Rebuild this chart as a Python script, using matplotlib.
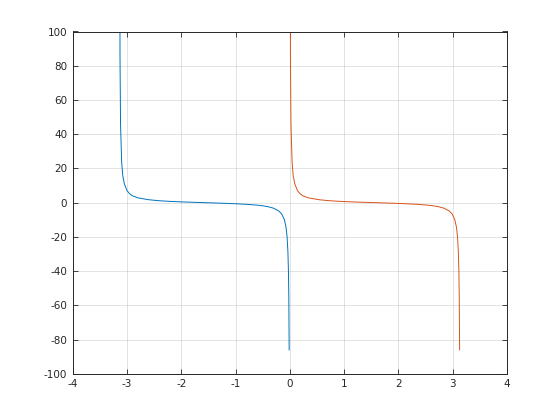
import matplotlib
matplotlib.use("Agg")
import matplotlib.pyplot as plt

blue_x = [-3.1416, -3.130, -3.12, -3.10, -3.08, -3.05, -3.0, -2.95, -2.9, -2.8, -2.6, -2.4,
          -2.2, -2.0, -1.8, -1.6, -1.4, -1.2, -1.0, -0.8, -0.6, -0.5, -0.4, -0.3, -0.2,
          -0.15, -0.1, -0.07, -0.05, -0.035, -0.025, -0.018, -0.0116]
blue_y = [500, 86, 46, 24, 16, 11, 7.0, 5.1, 4.0, 2.8, 1.7, 1.1,
          0.73, 0.46, 0.23, 0.03, -0.17, -0.39, -0.64, -0.97, -1.46, -1.83, -2.37, -3.23, -4.93,
          -6.6, -9.97, -14.3, -20, -28.6, -40, -55.5, -86]
orange_x = [0.0, 0.0116, 0.0216, 0.0416, 0.0616, 0.0916, 0.1416, 0.1916, 0.2416, 0.3416, 0.5416, 0.7416,
            0.9416, 1.1416, 1.3416, 1.5416, 1.7416, 1.9416, 2.1416, 2.3416, 2.5416, 2.6416, 2.7416, 2.8416, 2.9416,
            2.9916, 3.0416, 3.0716, 3.0916, 3.1066, 3.1166, 3.1236, 3.1300]
orange_y = blue_y[:]

xticks = [-4, -3, -2, -1, 0, 1, 2, 3, 4]
yticks = [-100, -80, -60, -40, -20, 0, 20, 40, 60, 80, 100]

fig = plt.figure(figsize=(5.6, 4.2), dpi=100)
ax = fig.add_axes([0.13, 0.11, 0.775, 0.815])
ax.plot(blue_x, blue_y, color='#0072BD', lw=0.7)
ax.plot(orange_x, orange_y, color='#D95319', lw=0.7)
ax.set_xlim(-4, 4)
ax.set_ylim(-100, 100)
ax.set_xticks(xticks)
ax.set_yticks(yticks)
ax.set_xticklabels([str(t) for t in xticks])
ax.set_yticklabels([str(t) for t in yticks])
ax.grid(True, color='#262626', alpha=0.15, lw=0.6)
ax.set_axisbelow(True)
ax.tick_params(direction='in', length=3.5, width=0.6, colors='#262626', labelsize=7.5,
               top=True, right=True, pad=4)
for s in ax.spines.values():
    s.set_color('#262626')
    s.set_linewidth(0.7)
fig.savefig('out.png', dpi=100)
